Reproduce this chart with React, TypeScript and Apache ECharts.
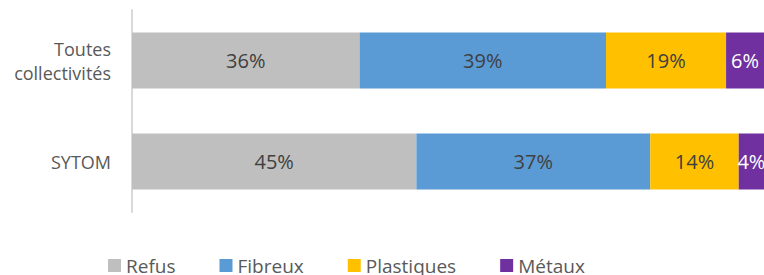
import React, { useEffect, useRef } from "react";
import * as echarts from "echarts";

const categories = ["Toutes\ncollectivités", "SYTOM"];
const refus = [36, 45];
const fibreux = [39, 37];
const plastiques = [19, 14];
const metaux = [6, 4];

const FONT = "Open Sans";

export default function App() {
  const ref = useRef<HTMLDivElement>(null);
  useEffect(() => {
    document.body.style.margin = "0";
    const chart = echarts.init(ref.current!, null, { renderer: "svg" });
    const mk = (name: string, data: number[], color: string, labelColor: string) => ({
      name,
      type: "bar",
      stack: "total",
      data,
      barWidth: 56,
      itemStyle: { color },
      label: {
        show: true,
        position: "inside",
        formatter: "{c}%",
        color: labelColor,
        fontFamily: FONT,
        fontSize: 20,
      },
      emphasis: { disabled: true },
    });
    chart.setOption({
      animation: false,
      grid: { left: 132, right: 0, top: 10, bottom: 63, containLabel: false },
      xAxis: {
        type: "value",
        min: 0,
        max: 100,
        show: false,
      },
      yAxis: {
        type: "category",
        inverse: true,
        data: categories,
        axisLine: { show: true, lineStyle: { color: "#d9d9d9", width: 2 } },
        axisTick: { show: false },
        axisLabel: {
          margin: 21,
          color: "#595959",
          fontFamily: FONT,
          fontSize: 18,
          lineHeight: 24,
          align: "right",
        },
      },
      legend: {
        left: 103,
        top: 251,
        itemWidth: 13,
        itemHeight: 13,
        itemGap: 44,
        icon: "rect",
        textStyle: { color: "#595959", fontFamily: FONT, fontSize: 19 },
        data: ["Refus", "Fibreux", "Plastiques", "Métaux"],
      },
      series: [
        mk("Refus", refus, "#bfbfbf", "#404040"),
        mk("Fibreux", fibreux, "#5b9bd5", "#404040"),
        mk("Plastiques", plastiques, "#ffc000", "#404040"),
        mk("Métaux", metaux, "#7030a0", "#ffffff"),
      ],
    });
    return () => chart.dispose();
  }, []);
  return <div ref={ref} style={{ width: 764, height: 275 }} />;
}
